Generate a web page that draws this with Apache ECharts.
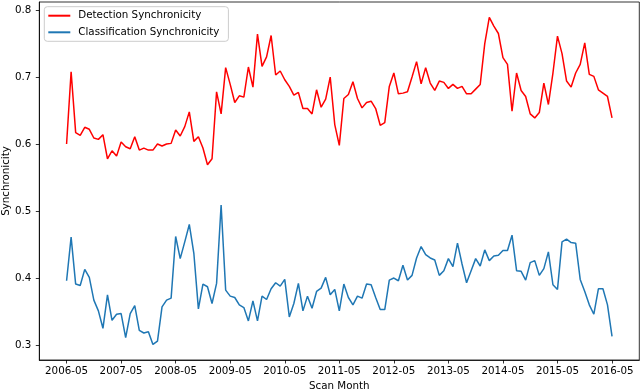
<!DOCTYPE html>
<html>
<head>
<meta charset="utf-8">
<script src="https://cdn.jsdelivr.net/npm/echarts@6/dist/echarts.min.js"></script>
<style>
html,body{margin:0;padding:0;background:#fff;}
#chart{width:640px;height:391px;}
</style>
</head>
<body>
<div id="chart"></div>
<script>
// Monthly scan months 2006-05 .. 2016-05 (121 months)
const months = [];
for (let y = 2006, m = 5; months.length < 121; ) {
  months.push(y + '-' + String(m).padStart(2, '0'));
  m++; if (m > 12) { m = 1; y++; }
}
const tickLabels = ['2006-05','2007-05','2008-05','2009-05','2010-05','2011-05','2012-05','2013-05','2014-05','2015-05','2016-05'];
const yTicks = [0.3, 0.4, 0.5, 0.6, 0.7, 0.8];

const detection = [
0.600,0.708,0.617,0.613,0.625,0.622,0.609,0.607,0.614,0.578,
0.590,0.582,0.603,0.596,0.593,0.611,0.591,0.594,0.591,0.591,
0.600,0.597,0.600,0.601,0.621,0.612,0.626,0.648,0.604,0.611,
0.594,0.569,0.578,0.678,0.645,0.714,0.689,0.662,0.672,0.670,
0.715,0.685,0.764,0.716,0.730,0.762,0.703,0.709,0.696,0.686,
0.673,0.677,0.653,0.653,0.645,0.681,0.655,0.667,0.700,0.629,
0.598,0.668,0.674,0.693,0.668,0.654,0.662,0.664,0.653,0.628,
0.632,0.686,0.706,0.675,0.676,0.678,0.700,0.723,0.690,0.714,
0.691,0.680,0.694,0.692,0.683,0.689,0.683,0.686,0.675,0.675,
0.682,0.689,0.750,0.789,0.776,0.765,0.729,0.719,0.649,0.706,
0.680,0.671,0.645,0.639,0.647,0.691,0.659,0.706,0.761,0.735,
0.694,0.685,0.706,0.719,0.751,0.704,0.701,0.681,0.676,0.671,
0.639
];
const classification = [
0.396,0.461,0.391,0.389,0.413,0.401,0.367,0.351,0.325,0.375,
0.337,0.346,0.347,0.311,0.347,0.359,0.322,0.318,0.320,0.301,
0.306,0.357,0.367,0.370,0.462,0.429,0.454,0.480,0.437,0.354,
0.391,0.387,0.362,0.392,0.509,0.382,0.373,0.371,0.360,0.356,
0.336,0.366,0.336,0.373,0.368,0.384,0.393,0.388,0.398,0.342,
0.362,0.392,0.351,0.373,0.355,0.380,0.385,0.401,0.375,0.383,
0.351,0.391,0.371,0.360,0.373,0.370,0.391,0.390,0.371,0.353,
0.353,0.397,0.400,0.396,0.419,0.397,0.404,0.430,0.447,0.435,
0.430,0.427,0.404,0.411,0.429,0.417,0.452,0.421,0.393,0.411,
0.429,0.418,0.442,0.426,0.433,0.434,0.441,0.441,0.464,0.411,
0.410,0.397,0.423,0.426,0.404,0.414,0.439,0.390,0.383,0.454,
0.458,0.453,0.452,0.398,0.380,0.360,0.346,0.384,0.384,0.360,
0.313
];

const tickIdx = tickLabels.map(t => months.indexOf(t));
const font = 'DejaVu Sans';
const fs = 10.3;

const chart = echarts.init(document.getElementById('chart'), null, {renderer: 'canvas'});
chart.setOption({
  animation: false,
  backgroundColor: '#ffffff',
  textStyle: {fontFamily: font},
  grid: {left: 39.3, right: 0.7, top: 2, bottom: 31, show: true, borderColor: '#000', borderWidth: 0.8,
         containLabel: false, outerBoundsMode: 'none'},
  legend: {
    orient: 'vertical', left: 44.3, top: 6.7,
    padding: [3, 9, 3, 4],
    itemWidth: 22, itemHeight: 2, itemGap: 4.6,
    icon: 'rect',
    backgroundColor: 'rgba(255,255,255,0.8)',
    borderColor: '#cccccc', borderWidth: 1, borderRadius: 3,
    textStyle: {fontFamily: font, fontSize: fs, color: '#000', lineHeight: 12, padding: [0, 0, 0, 3]},
    data: ['Detection Synchronicity', 'Classification Synchronicity']
  },
  xAxis: {
    type: 'value', min: -6, max: 126,
    name: 'Scan Month', nameLocation: 'middle', nameGap: 20,
    nameTextStyle: {fontFamily: font, fontSize: fs, color: '#000'},
    axisLine: {show: true, onZero: false, lineStyle: {color: '#000', width: 0.8}},
    axisTick: {show: true, length: 3.5, lineStyle: {color: '#000', width: 0.8}, customValues: tickIdx},
    axisLabel: {margin: 6, fontFamily: font, fontSize: fs, color: '#000', customValues: tickIdx,
      formatter: v => tickLabels[tickIdx.indexOf(Math.round(v))] || ''},
    splitLine: {show: false}
  },
  yAxis: {
    type: 'value', min: 0.2777, max: 0.812,
    name: 'Synchronicity', nameLocation: 'middle', nameGap: 28, nameRotate: 90, nameMoveOverlap: false,
    nameTextStyle: {fontFamily: font, fontSize: fs, color: '#000'},
    axisLine: {show: true, onZero: false, lineStyle: {color: '#000', width: 0.8}},
    axisTick: {show: true, length: 3.5, lineStyle: {color: '#000', width: 0.8}, customValues: yTicks},
    axisLabel: {margin: 8, fontFamily: font, fontSize: fs, color: '#000', customValues: yTicks,
      formatter: v => v.toFixed(1)},
    splitLine: {show: false}
  },
  series: [
    {name: 'Detection Synchronicity', type: 'line', showSymbol: false, color: '#ff0000',
     lineStyle: {width: 1.5, color: '#ff0000'},
     data: detection.map((v, i) => [i, v])},
    {name: 'Classification Synchronicity', type: 'line', showSymbol: false, color: '#1f77b4',
     lineStyle: {width: 1.5, color: '#1f77b4'},
     data: classification.map((v, i) => [i, v])}
  ]
});
</script>
</body>
</html>
